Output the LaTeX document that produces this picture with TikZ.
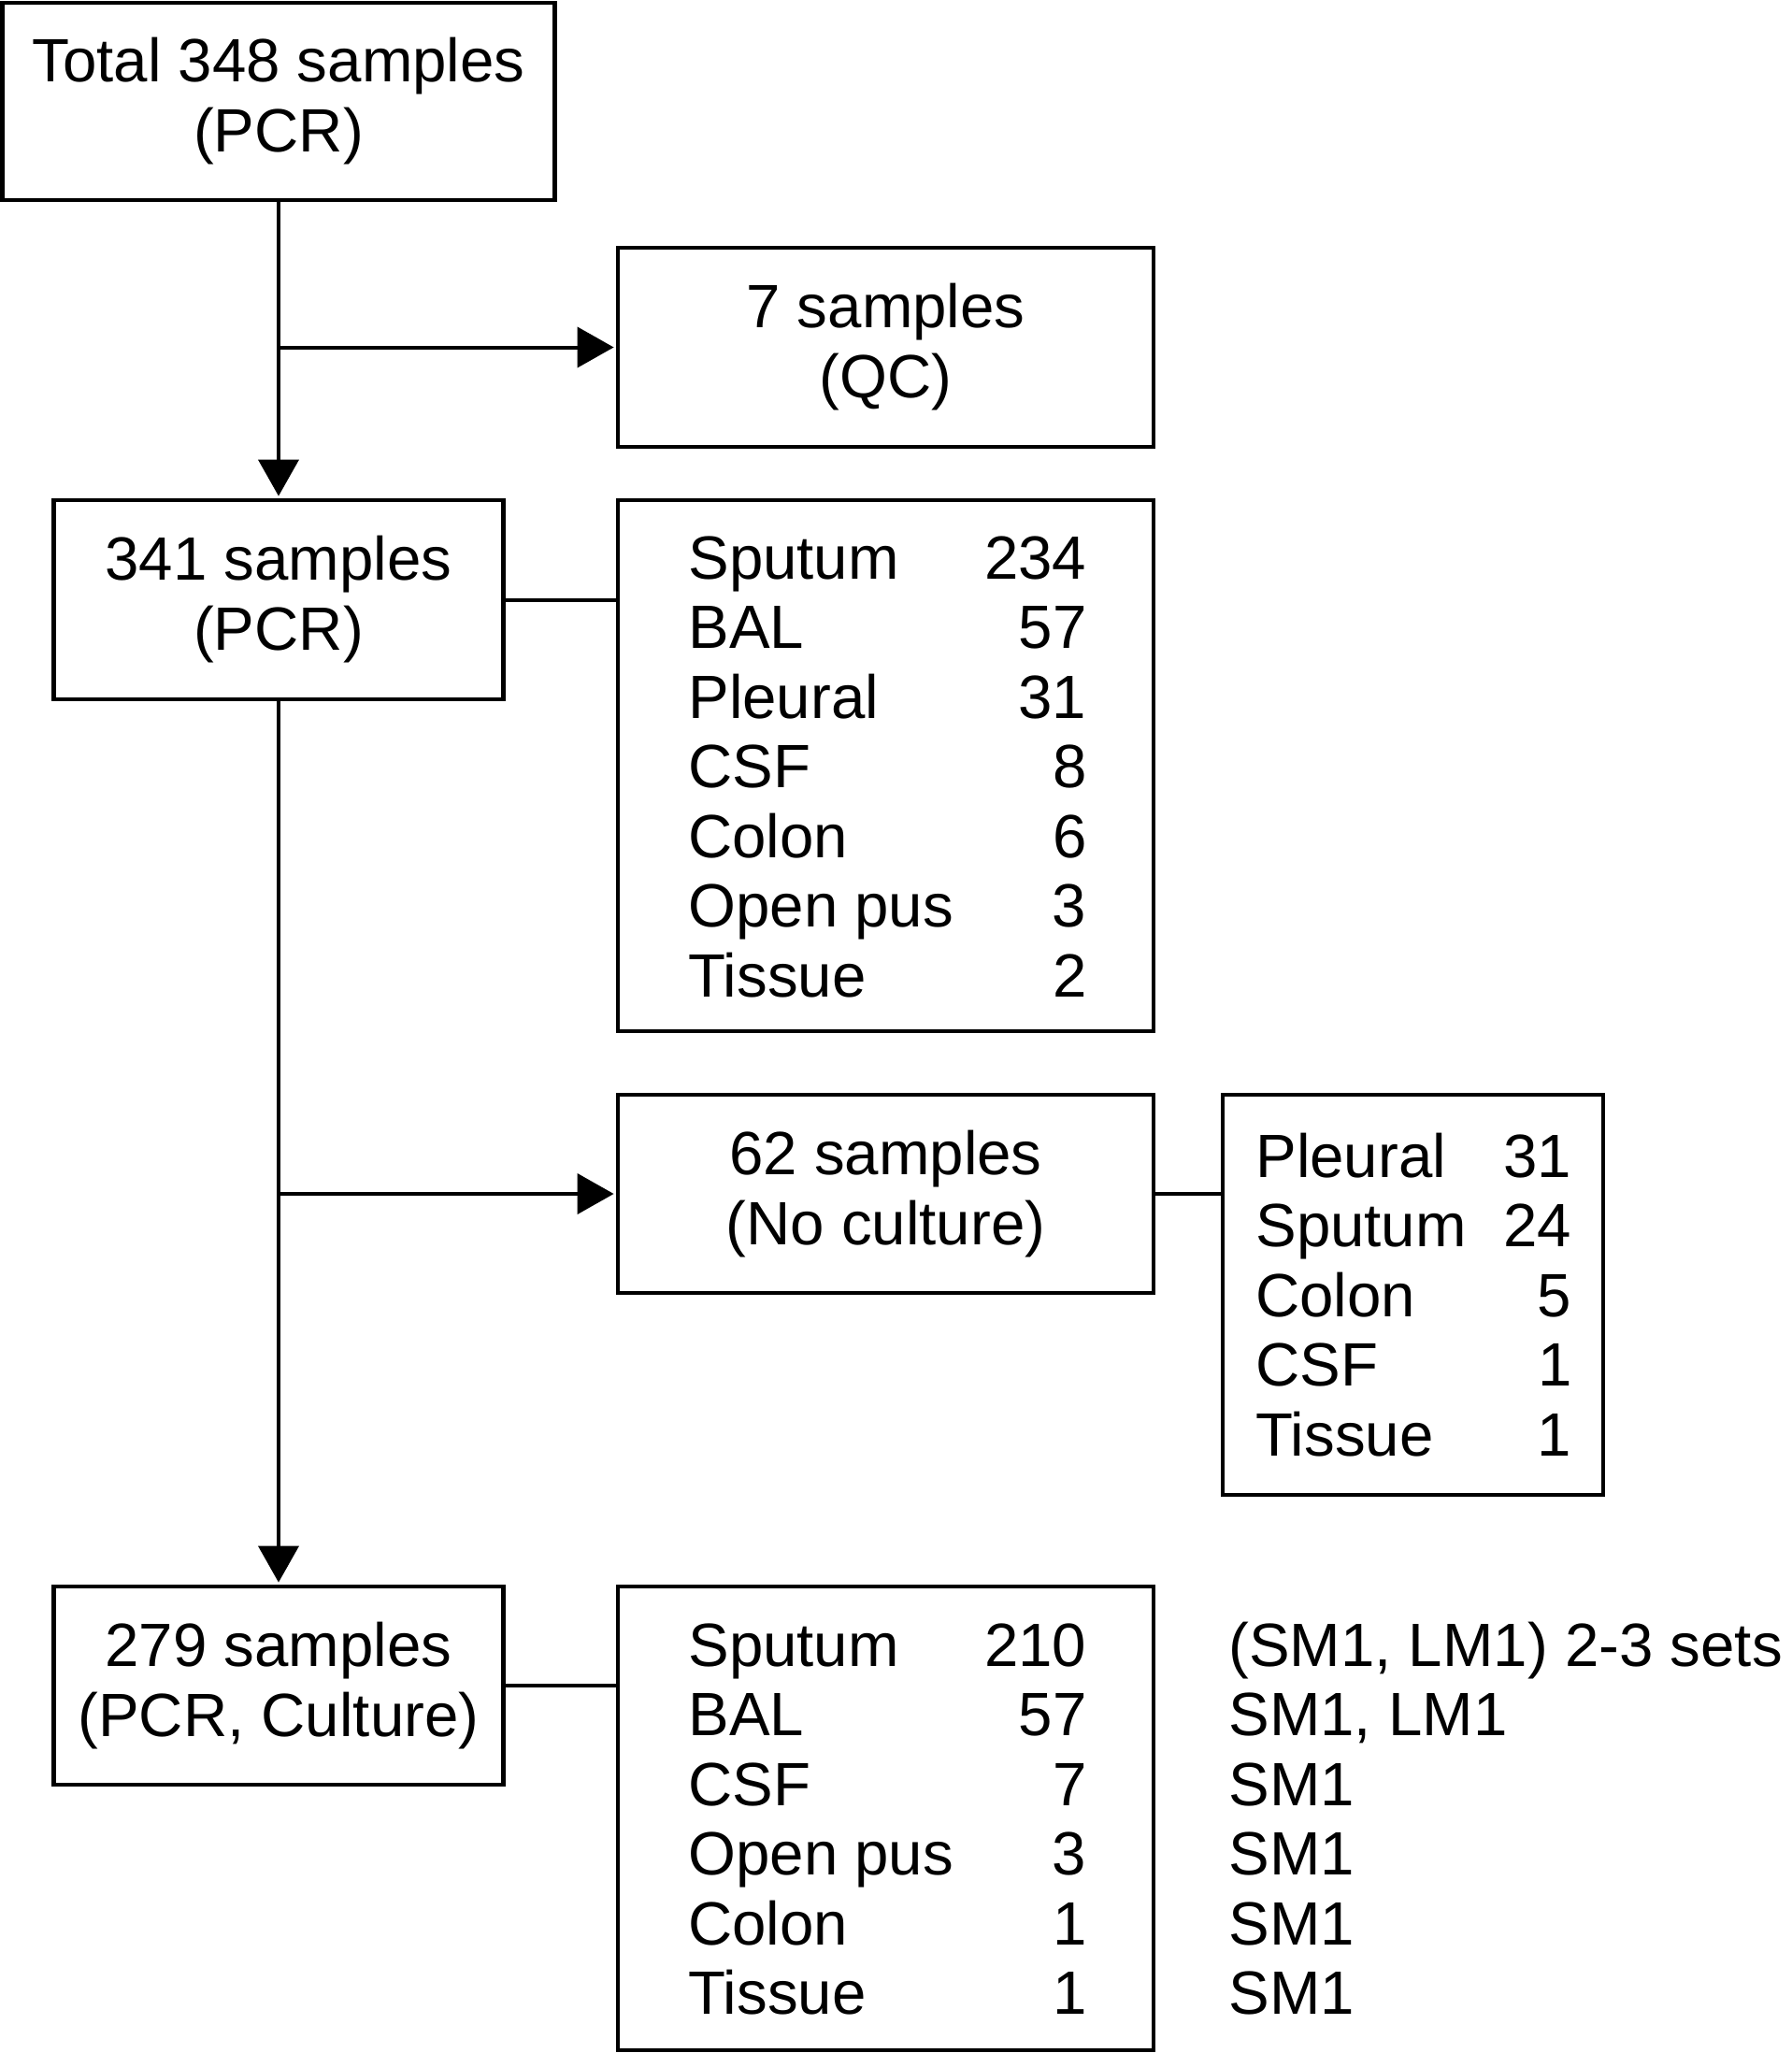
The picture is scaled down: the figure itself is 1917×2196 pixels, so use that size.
\documentclass[tikz,border=0pt]{standalone}
\usepackage{fontspec}
\setmainfont{Liberation Sans}
\usetikzlibrary{arrows.meta}
\newcommand\bxfont{\fontsize{32.7}{37.5}\selectfont}
\newcommand\lsfont{\fontsize{32.7}{37.25}\selectfont}
\begin{document}
\begin{tikzpicture}[x=0.5pt,y=-0.5pt,
  box/.style={draw, line width=2.2pt, inner sep=0pt, align=center, font=\bxfont},
  conn/.style={line width=2pt},
  arr/.style={conn, shorten >=1.1pt, -{Triangle[length=19.5pt,width=21.5pt]}},
  listtxt/.style={inner sep=0pt, anchor=base west, font=\lsfont}]
\useasboundingbox (0,0) rectangle (1917,2196);

% boxes
\node[box, minimum width=295.5pt, minimum height=105.5pt] (b1) at (298,108.5) {Total 348 samples\\(PCR)};
\node[box, minimum width=286.5pt, minimum height=106.5pt] (qc) at (947.5,371.5) {7 samples\\(QC)};
\node[box, minimum width=240.5pt, minimum height=106.5pt] (b341) at (298,641.5) {341 samples\\(PCR)};
\node[box, minimum width=286.5pt, minimum height=284pt] (l1) at (947.5,819) {};
\node[box, minimum width=286.5pt, minimum height=106pt] (b62) at (947.5,1277) {62 samples\\(No culture)};
\node[box, minimum width=203.5pt, minimum height=214pt] (l2) at (1511.5,1385) {};
\node[box, minimum width=240.5pt, minimum height=106pt] (b279) at (298,1803) {279 samples\\(PCR, Culture)};
\node[box, minimum width=286.5pt, minimum height=248pt] (l3) at (947.5,1945) {};

% list texts
\node[listtxt] (l1t) at (736,619) {\begin{tabular*}{213pt}[t]{@{}l@{\extracolsep{\fill}}r@{}}
Sputum & 234\\ BAL & 57\\ Pleural & 31\\ CSF & 8\\ Colon & 6\\ Open pus & 3\\ Tissue & 2
\end{tabular*}};
\node[listtxt] (l2t) at (1343,1259) {\begin{tabular*}{169pt}[t]{@{}l@{\extracolsep{\fill}}r@{}}
Pleural & 31\\ Sputum & 24\\ Colon & 5\\ CSF & 1\\ Tissue & 1
\end{tabular*}};
\node[listtxt] (l3t) at (736,1782) {\begin{tabular*}{213pt}[t]{@{}l@{\extracolsep{\fill}}r@{}}
Sputum & 210\\ BAL & 57\\ CSF & 7\\ Open pus & 3\\ Colon & 1\\ Tissue & 1
\end{tabular*}};
\node[listtxt] (notes) at (1314,1782) {\begin{tabular}[t]{@{}l@{}}
(SM1, LM1) 2-3 sets\\ SM1, LM1\\ SM1\\ SM1\\ SM1\\ SM1
\end{tabular}};

% connectors
\draw[arr] (b1.south) -- (b1.south |- b341.north);
\draw[arr] (b1.south |- qc.west) -- (qc.west);
\draw[arr] (b341.south) -- (b341.south |- b279.north);
\draw[arr] (b341.south |- b62.west) -- (b62.west);
\draw[conn] (b341.east) -- (b341.east -| l1.west);
\draw[conn] (b62.east) -- (b62.east -| l2.west);
\draw[conn] (b279.east) -- (b279.east -| l3.west);
\end{tikzpicture}
\end{document}
